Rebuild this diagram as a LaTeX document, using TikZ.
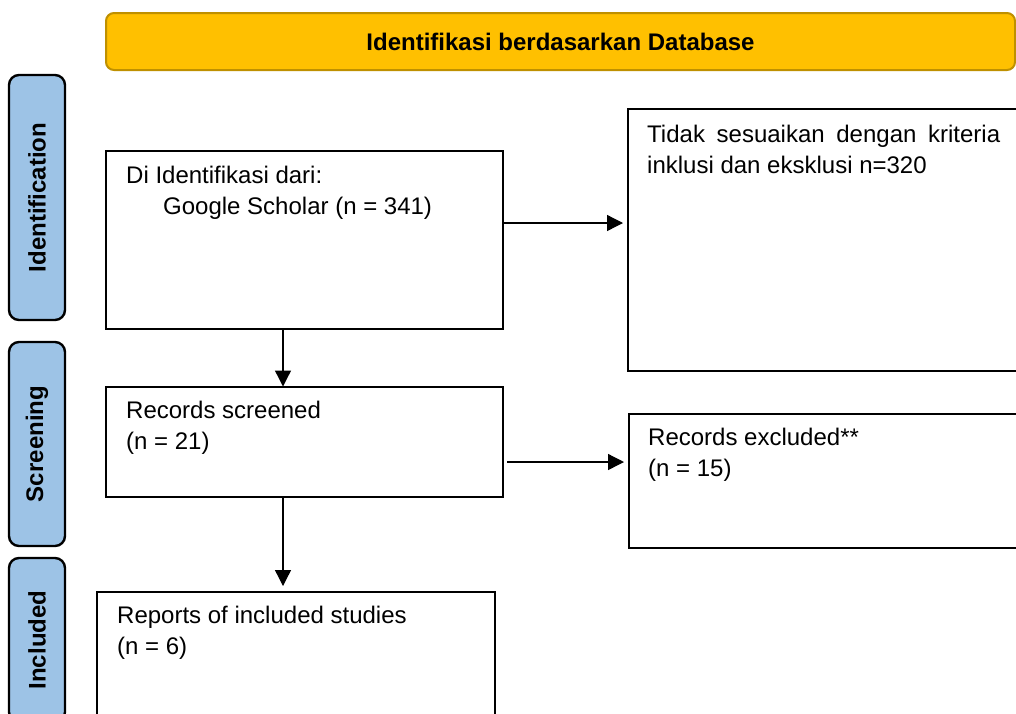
\documentclass[tikz,border=0pt]{standalone}
\usepackage{fontspec}
\setmainfont{Liberation Sans}
\usetikzlibrary{arrows.meta}
\definecolor{gold}{HTML}{FFC000}
\definecolor{goldline}{HTML}{BF9000}
\definecolor{lblue}{HTML}{9DC3E6}
\begin{document}
\begin{tikzpicture}[x=1pt,y=-1pt,
  font=\fontsize{24}{31}\selectfont,
  box/.style={draw, line width=2.4pt, rectangle, inner sep=0pt, outer sep=0pt},
  lab/.style={draw, line width=2.4pt, fill=lblue, rounded corners=10pt, rotate=90,
    inner sep=0pt, outer sep=0pt, font=\fontsize{24}{28}\selectfont\bfseries},
  banner/.style={draw=goldline, line width=2pt, fill=gold, rounded corners=8pt,
    inner sep=0pt, font=\fontsize{24}{28}\selectfont\bfseries},
  txt/.style={anchor=base west, inner sep=0pt},
  arr/.style={line width=1.3pt, -{Triangle[length=16pt,width=16pt]}}]
\useasboundingbox (0,0) rectangle (1016,713);
\clip (0,0) rectangle (1016,713);
\fill[white] (0,0) rectangle (1016,713);

% banner
\node[banner, minimum width=909pt, minimum height=57pt] (ban) at (560.5,41.5) {Identifikasi berdasarkan Database};

% stage labels
\node[lab, minimum width=245pt, minimum height=56pt] (lid) at (37,197.5) {Identification};
\node[lab, minimum width=204pt, minimum height=56pt] (lsc) at (37,444) {Screening};
\node[lab, minimum width=164pt, minimum height=56pt] (lin) at (37,640) {Included};

% boxes
\node[box, minimum width=397pt, minimum height=178pt] (b1) at (304.5,240) {};
\node[box, minimum width=397pt, minimum height=110pt] (b2) at (304.5,442) {};
\node[box, minimum width=398pt, minimum height=168pt] (b3) at (296,676) {};
\node[box, minimum width=412pt, minimum height=262pt] (b4) at (834,240) {};
\node[box, minimum width=411pt, minimum height=134pt] (b5) at (834.5,481) {};

% texts
\node[txt] (t1a) at (126,183) {Di Identifikasi dari:};
\node[txt] (t1b) at (163,214) {Google Scholar (n = 341)};
\node[txt] (t2a) at (126,418) {Records screened};
\node[txt] (t2b) at (126,449) {(n = 21)};
\node[txt] (t3a) at (117,623) {Reports of included studies};
\node[txt] (t3b) at (117,654) {(n = 6)};
\node[txt] (t4a) at (647,142) {\makebox[353pt][s]{Tidak sesuaikan dengan kriteria}};
\node[txt] (t4b) at (647,173) {inklusi dan eksklusi n=320};
\node[txt] (t5a) at (648,445) {Records excluded**};
\node[txt] (t5b) at (648,476) {(n = 15)};

% connectors
\coordinate (cx) at (283,0);
\coordinate (r1) at (0,223);
\coordinate (r2) at (0,462);
\draw[arr, shorten >=0.5pt] (b1.south -| cx) -- (b2.north -| cx);
\draw[arr, shorten >=6pt] (b2.south -| cx) -- (b3.north -| cx);
\draw[arr, shorten >=5pt] (b1.east |- r1) -- (b4.west |- r1);
\draw[arr, shorten <=4pt, shorten >=5pt] (b2.east |- r2) -- (b5.west |- r2);
\end{tikzpicture}
\end{document}
